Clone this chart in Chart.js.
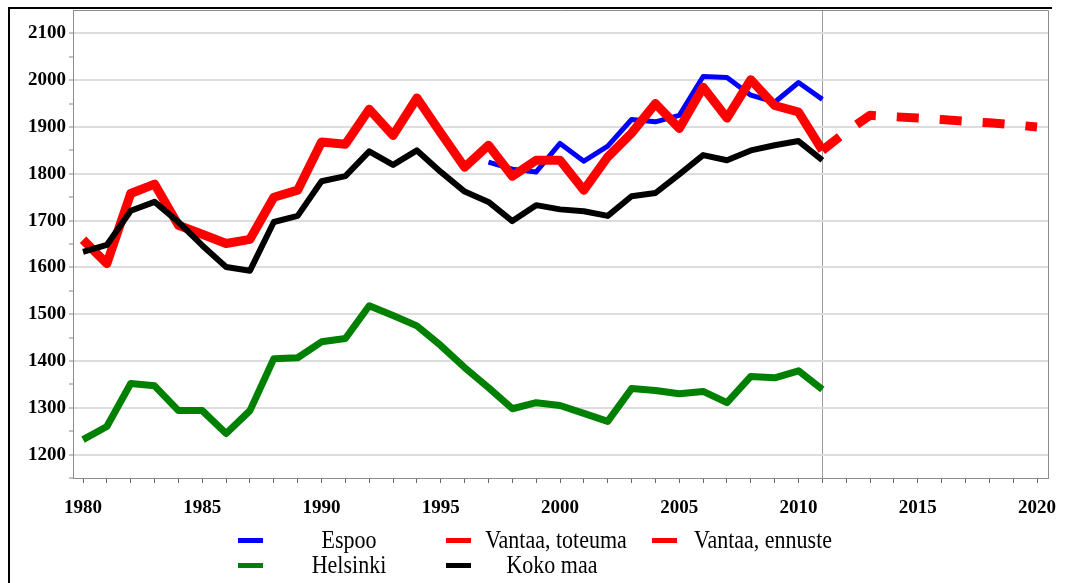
<!DOCTYPE html>
<html>
<head>
<meta charset="utf-8">
<title>Vantaa</title>
<script src="https://cdn.jsdelivr.net/npm/chart.js@4.4.1/dist/chart.umd.min.js"></script>
<style>
    html, body { margin: 0; padding: 0; background: #fff; }
    #wrap { position: relative; width: 1066px; height: 583px; overflow: hidden; }
    #frame {
        position: absolute; left: 8px; top: 7px; width: 1042px; height: 620px;
        border-left: 2px solid #000; border-top: 2px solid #000;
    }
    #chart { position: absolute; left: 0; top: 0; }
    .sw { position: absolute; width: 25px; height: 5px; }
    .lt {
        position: absolute; width: 170px; height: 24px; line-height: 24px;
        font-family: 'Liberation Serif', 'Times New Roman', serif; font-size: 22px;
        color: #000; text-align: center; white-space: nowrap;
        transform: scaleY(1.12);
    }
</style>
</head>
<body>
<div id="wrap">
    <div id="frame"></div>
    <canvas id="chart" width="1066" height="583"></canvas>
    <div id="legend"></div>
</div>
<script>
// --- Data ---
const years = [1980, 1981, 1982, 1983, 1984, 1985, 1986, 1987, 1988, 1989,
               1990, 1991, 1992, 1993, 1994, 1995, 1996, 1997, 1998, 1999,
               2000, 2001, 2002, 2003, 2004, 2005, 2006, 2007, 2008, 2009,
               2010, 2011];
const espoo = [null, null, null, null, null, null, null, null, null, null,
               null, null, null, null, null, null, null, 1825, 1810, 1804,
               1865, 1827, 1859, 1916, 1911, 1925, 2008, 2006, 1968, 1953,
               1995, 1959];
const helsinki = [1232, 1260, 1352, 1347, 1294, 1294, 1245, 1294, 1405, 1407,
                  1441, 1448, 1518, 1497, 1475, 1433, 1386, 1343, 1298, 1311,
                  1305, 1288, 1271, 1341, 1337, 1330, 1335, 1311, 1367, 1364,
                  1379, 1339];
const vantaa = [1659, 1608, 1758, 1778, 1690, 1671, 1651, 1660, 1750, 1765,
                1868, 1863, 1938, 1882, 1962, 1887, 1814, 1861, 1795, 1829,
                1829, 1765, 1836, 1887, 1950, 1897, 1985, 1919, 2001, 1946,
                1932, 1850];
const kokoMaa = [1633, 1648, 1721, 1740, 1697, 1647, 1601, 1593, 1697, 1710,
                 1784, 1795, 1848, 1819, 1850, 1804, 1762, 1740, 1699, 1733,
                 1724, 1720, 1710, 1752, 1759, 1799, 1840, 1829, 1850, 1861,
                 1870, 1829];
const forecastYears = [2011, 2012, 2013, 2014, 2015, 2016, 2017, 2018, 2019, 2020];
const vantaaForecast = [1850, 1890, 1925, 1922, 1919, 1916, 1912, 1909, 1905, 1900];

const yTickValues = [1200, 1300, 1400, 1500, 1600, 1700, 1800, 1900, 2000, 2100];
const xTickValues = [1980, 1985, 1990, 1995, 2000, 2005, 2010, 2015, 2020];

const labels = {
    espoo: 'Espoo',
    helsinki: 'Helsinki',
    vantaa: 'Vantaa, toteuma',
    forecast: 'Vantaa, ennuste',
    koko: 'Koko maa'
};

function toPoints(xs, ys) {
    return xs.map((x, i) => ({ x: x, y: ys[i] }));
}

const FONT = "'Liberation Serif', 'Times New Roman', serif";

// Grey box round the plot area (top and right edges)
const plotBox = {
    id: 'plotBox',
    afterDraw(chart) {
        const a = chart.chartArea;
        const ctx = chart.ctx;
        ctx.save();
        ctx.strokeStyle = '#8c8c8c';
        ctx.lineWidth = 1;
        ctx.beginPath();
        ctx.moveTo(a.left, a.top + 0.5);
        ctx.lineTo(a.right + 0.5, a.top + 0.5);
        ctx.lineTo(a.right + 0.5, a.bottom);
        ctx.stroke();
        ctx.restore();
    }
};

function initChart() {
    const ctx = document.getElementById('chart').getContext('2d');

    const datasets = [
        {
            label: labels.espoo, data: toPoints(years, espoo),
            borderColor: '#0000ff', backgroundColor: '#0000ff',
            borderWidth: 5, order: 4
        },
        {
            label: labels.vantaa, data: toPoints(years, vantaa),
            borderColor: '#ff0000', backgroundColor: '#ff0000',
            borderWidth: 9, order: 3
        },
        {
            label: labels.forecast, data: toPoints(forecastYears, vantaaForecast),
            borderColor: '#ff0000', backgroundColor: '#ff0000',
            borderWidth: 9, borderDash: [22, 21], order: 3
        },
        {
            label: labels.helsinki, data: toPoints(years, helsinki),
            borderColor: '#008000', backgroundColor: '#008000',
            borderWidth: 7, order: 2
        },
        {
            label: labels.koko, data: toPoints(years, kokoMaa),
            borderColor: '#000000', backgroundColor: '#000000',
            borderWidth: 6, order: 1
        }
    ];
    datasets.forEach(d => {
        d.pointRadius = 0;
        d.tension = 0;
        d.fill = false;
        d.spanGaps = false;
        d.borderJoinStyle = 'round';
        d.borderCapStyle = 'butt';
    });

    new Chart(ctx, {
        type: 'line',
        data: { datasets: datasets },
        plugins: [plotBox],
        options: {
            responsive: false,
            animation: false,
            layout: { padding: { top: 10, right: 18, bottom: 60, left: 0 } },
            plugins: {
                legend: { display: false },
                tooltip: { enabled: false }
            },
            scales: {
                x: {
                    type: 'linear',
                    min: 1979.58, max: 2020.46,
                    afterBuildTicks: s => {
                        // minor tick every year, labels every five
                        const t = [];
                        for (let v = xTickValues[0]; v <= xTickValues[xTickValues.length - 1]; v++) t.push({ value: v });
                        s.ticks = t;
                    },
                    afterFit: s => {
                        s.height = 45;
                        s.paddingLeft = 0;
                        s.paddingRight = 0;
                    },
                    border: { color: '#8c8c8c', width: 1 },
                    grid: {
                        color: c => (c.tick && c.tick.value === 2011) ? '#9a9a9a' : 'rgba(0,0,0,0)',
                        lineWidth: 1,
                        tickColor: '#666',
                        tickLength: 5,
                        tickWidth: 1
                    },
                    ticks: {
                        autoSkip: false, maxRotation: 0, padding: 14,
                        color: '#000',
                        font: { family: FONT, size: 19, weight: 'bold' },
                        callback: v => (xTickValues.includes(v) ? String(v) : '')
                    }
                },
                y: {
                    min: 1150, max: 2150,
                    afterBuildTicks: s => {
                        // minor tick at each 50, label at each 100
                        const t = [];
                        for (let v = yTickValues[0] - 50; v <= yTickValues[yTickValues.length - 1]; v += 50) t.push({ value: v });
                        s.ticks = t;
                    },
                    afterFit: s => {
                        s.width = 73;
                        s.paddingTop = 0;
                        s.paddingBottom = 0;
                    },
                    border: { color: '#8c8c8c', width: 1 },
                    grid: {
                        color: c => (c.tick && yTickValues.includes(c.tick.value)) ? '#dddddd' : 'rgba(0,0,0,0)',
                        lineWidth: 2,
                        tickColor: '#888',
                        tickLength: 4,
                        tickWidth: 1
                    },
                    ticks: {
                        autoSkip: false, padding: 3,
                        color: '#000',
                        font: { family: FONT, size: 19, weight: 'bold' },
                        callback: v => (yTickValues.includes(v) ? String(v) : '')
                    }
                }
            }
        }
    });

    buildLegend(datasets);
}

// --- HTML legend in a grid ---
function buildLegend(datasets) {
    const box = document.getElementById('legend');
    const byLabel = {};
    datasets.forEach(d => { byLabel[d.label] = d.borderColor; });
    const cells = [
        { label: labels.espoo, sx: 238, tx: 264, row: 0 },
        { label: labels.vantaa, sx: 446, tx: 471, row: 0 },
        { label: labels.forecast, sx: 652, tx: 678, row: 0 },
        { label: labels.helsinki, sx: 238, tx: 264, row: 1 },
        { label: labels.koko, sx: 446, tx: 467, row: 1 }
    ];
    const rowY = [541, 566];
    cells.forEach(c => {
        const sw = document.createElement('div');
        sw.className = 'sw';
        sw.style.left = c.sx + 'px';
        sw.style.top = (rowY[c.row] - 3) + 'px';
        sw.style.background = byLabel[c.label];
        box.appendChild(sw);

        const t = document.createElement('div');
        t.className = 'lt';
        t.style.left = c.tx + 'px';
        t.style.top = (rowY[c.row] - 13) + 'px';
        t.textContent = c.label;
        box.appendChild(t);
    });
}

document.addEventListener('DOMContentLoaded', initChart);
</script>
</body>
</html>
